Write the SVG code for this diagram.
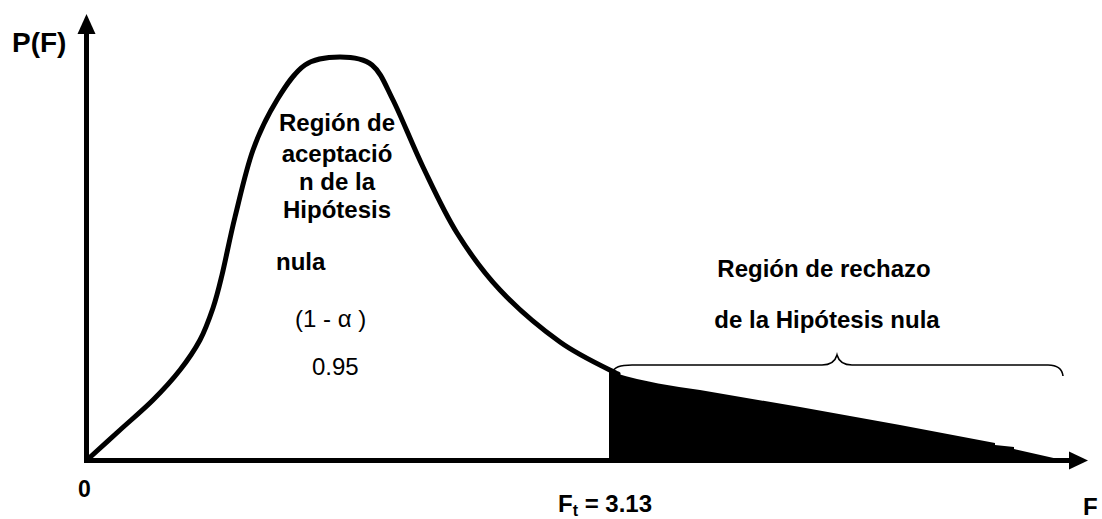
<svg xmlns="http://www.w3.org/2000/svg" width="1102" height="519" viewBox="0 0 1102 519">
<style>
text{font-family:"Liberation Sans",Arial,sans-serif;fill:#000}
.b{font-weight:bold}
.lbl{font-size:24px;font-weight:bold}
.reg{font-size:24px}
.axis{stroke:#000;stroke-width:5;fill:none}
.curve{stroke:#000;stroke-width:5;fill:none;stroke-linejoin:round;stroke-linecap:round}
.brace{stroke:#000;stroke-width:1.6;fill:none}
</style>
<rect width="1102" height="519" fill="#fff"/>
<g id="tail">
<path d="M609,371 L615,373 C645,382 672,386 700,390 L800,407 L900,425 L995,443 L995,445 L1014,447 L1014,449 L1058,459 L1060,461 L609,461 Z" fill="#000"/>
</g>
<g id="axes">
<line class="axis" x1="86.5" y1="462" x2="86.5" y2="30"/>
<polygon points="86.5,14 77.5,34 95.5,34" fill="#000"/>
<line class="axis" x1="84" y1="460.5" x2="1072" y2="460.5"/>
<polygon points="1088,460.5 1069,451.5 1069,469.5" fill="#000"/>
</g>
<g id="curve">
<path class="curve" d="M87,460 C92.5,455 109,440 120,430 C131,420 143,410 153,400 C163,390 172.2,380 180,370 C187.8,360 194.5,350.3 200,340 C205.5,329.7 209.3,318.8 213,308 C216.7,297.2 218.3,290.2 222,275 C225.7,259.8 229.8,237.8 235,217 C240.2,196.2 246,169.5 253,150 C260,130.5 268.3,114.2 277,100 C285.7,85.8 294.5,72.2 305,65 C315.5,57.8 328.8,57 340,57 C351.2,57 363.2,57.8 372,65 C380.8,72.2 384.5,83 393,100 C401.5,117 412.3,144.8 423,167 C433.7,189.2 444.2,212.5 457,233 C469.8,253.5 482.8,271.8 500,290 C517.2,308.2 540.8,328.2 560,342 C579.2,355.8 605.8,367.8 618,374"/>
</g>
<g id="brace">
<path class="brace" d="M612,373 C614,367 620,365 632,365 L822,365 C830,365 835,362 837,355 C839,362 844,365 852,365 L1048,365 C1057,365 1062,368 1063,376"/>
</g>
<g id="labels">
<text x="12" y="52" class="b" font-size="28">P(F)</text>
<text x="78" y="497" class="b" font-size="23">0</text>
<text x="1083" y="515" class="b" font-size="24">F</text>
<text x="558" y="512" class="b" font-size="24">F<tspan font-size="16" dy="4">t</tspan><tspan dy="-4"> = 3.13</tspan></text>
<text x="337" y="131" class="lbl" text-anchor="middle">Región de</text>
<text x="337" y="162" class="lbl" text-anchor="middle">aceptació</text>
<text x="337" y="190" class="lbl" text-anchor="middle">n de la</text>
<text x="337" y="218" class="lbl" text-anchor="middle">Hipótesis</text>
<text x="276" y="270" class="lbl">nula</text>
<text x="295" y="327" class="reg">(1 - α )</text>
<text x="312" y="375" class="reg">0.95</text>
<text x="824" y="277" class="lbl" text-anchor="middle">Región de rechazo</text>
<text x="827" y="328" class="lbl" text-anchor="middle">de la Hipótesis nula</text>
</g>
</svg>
